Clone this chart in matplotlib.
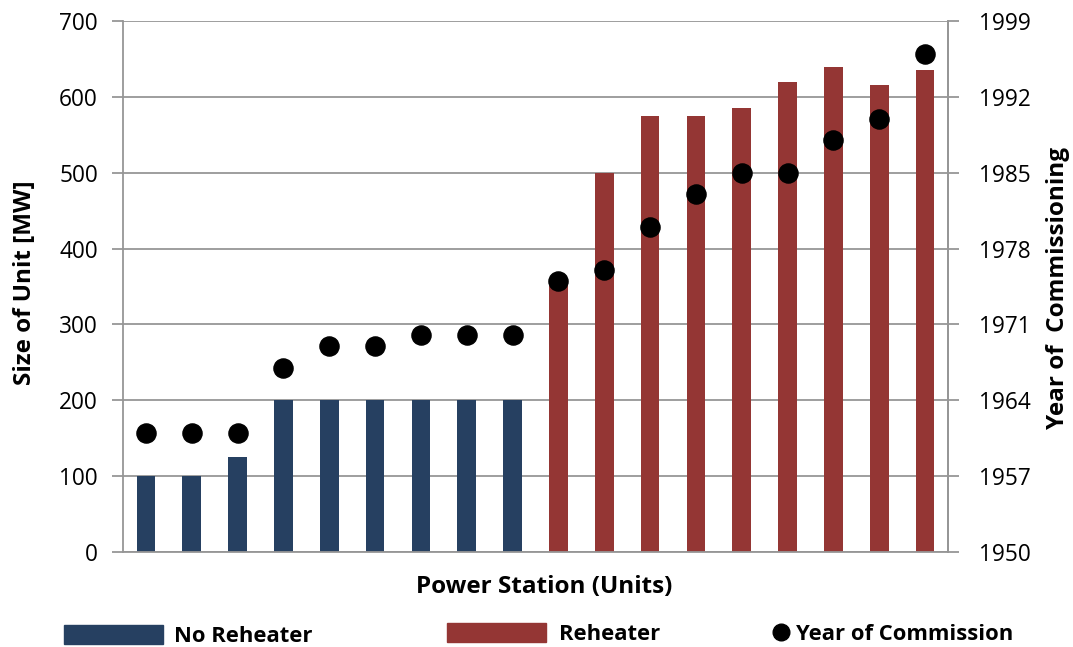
import matplotlib
matplotlib.use("Agg")
import matplotlib.pyplot as plt
from matplotlib.patches import Patch
from matplotlib.lines import Line2D
import numpy as np

plt.rcParams['font.family'] = ['Open Sans', 'DejaVu Sans']

sizes_no_reheat = [100, 100, 125, 200, 200, 200, 200, 200, 200]
sizes_reheat = [355, 500, 575, 575, 585, 620, 640, 615, 635]
years = [1961, 1961, 1961, 1967, 1969, 1969, 1970, 1970, 1970,
         1975, 1976, 1980, 1983, 1985, 1985, 1988, 1990, 1996]
left_ticks = [0, 100, 200, 300, 400, 500, 600, 700]
right_ticks = [1950, 1957, 1964, 1971, 1978, 1985, 1992, 1999]

blue = '#264061'
red = '#943634'
grid_c = '#969696'

fig = plt.figure(figsize=(10.73, 6.47), dpi=100)
L, R, T, B = 123, 948, 21, 552
ax = fig.add_axes([L/1073, 1-B/647, (R-L)/1073, (B-T)/647])

def ax_x(px):
    return (px - L) / (R - L)

def ax_y(py):
    return (B - py) / (B - T)

n1 = len(sizes_no_reheat)
n2 = len(sizes_reheat)
x1 = np.arange(n1)
x2 = np.arange(n1, n1 + n2)
w = 0.41
ax.bar(x1, sizes_no_reheat, width=w, color=blue, zorder=2)
ax.bar(x2, sizes_reheat, width=w, color=red, zorder=2)
ax.set_xlim(-0.5, n1 + n2 - 0.5)
ax.set_ylim(0, 700)
ax.set_yticks(left_ticks)
ax.yaxis.grid(True, color=grid_c, linewidth=1.3, zorder=0)
ax.set_axisbelow(True)
ax.set_xticks([])
ax.spines['top'].set_visible(False)
for s in ['left', 'right', 'bottom']:
    ax.spines[s].set_color(grid_c)
    ax.spines[s].set_linewidth(1.3)
tfs = 16.3
lfs = 17.5
ax.tick_params(axis='y', length=8, color=grid_c, width=1.3, labelsize=tfs, pad=10)
ax.set_ylabel('Size of Unit [MW]', fontsize=lfs, fontweight='bold', va='center')
ax.yaxis.set_label_coords(ax_x(25), ax_y(283))
ax.set_xlabel('Power Station (Units)', fontsize=lfs, fontweight='bold', va='center')
ax.xaxis.set_label_coords(ax_x(544), ax_y(587))

ax2 = ax.twinx()
ax2.set_ylim(1950, 1999)
ax2.set_yticks(right_ticks)
ax2.scatter(np.arange(n1 + n2), years, s=190, color='black', zorder=5, clip_on=False)
for s in ['top', 'left', 'bottom']:
    ax2.spines[s].set_visible(False)
ax2.spines['right'].set_color(grid_c)
ax2.spines['right'].set_linewidth(1.3)
ax2.tick_params(axis='y', length=8, color=grid_c, width=1.3, labelsize=tfs, pad=14)
ax2.set_ylabel('Year of  Commissioning', fontsize=lfs, fontweight='bold', va='center')
ax2.yaxis.set_label_coords(ax_x(1058), ax_y(288))

fs = 15.8
h1 = Patch(facecolor=blue, edgecolor=blue, label='No Reheater')
h2 = Patch(facecolor=red, edgecolor=red, label='Reheater')
h3 = Line2D([], [], linestyle='none', marker='o', markersize=12, color='black',
            label='Year of Commission')
fig.legend(handles=[h1], loc='center left', bbox_to_anchor=(55/1073, 1-636/647),
           frameon=False, prop={'size': fs, 'weight': 'bold'},
           handlelength=4.5, handleheight=0.95, handletextpad=0.5, borderaxespad=0)
fig.legend(handles=[h2], loc='center left', bbox_to_anchor=(438/1073, 1-634/647),
           frameon=False, prop={'size': fs, 'weight': 'bold'},
           handlelength=4.5, handleheight=0.95, handletextpad=0.6, borderaxespad=0)
fig.legend(handles=[h3], loc='center left', bbox_to_anchor=(765/1073, 1-634/647),
           frameon=False, prop={'size': fs, 'weight': 'bold'},
           handlelength=0.7, handletextpad=0.3, borderaxespad=0)

fig.savefig('out.png', dpi=100)
